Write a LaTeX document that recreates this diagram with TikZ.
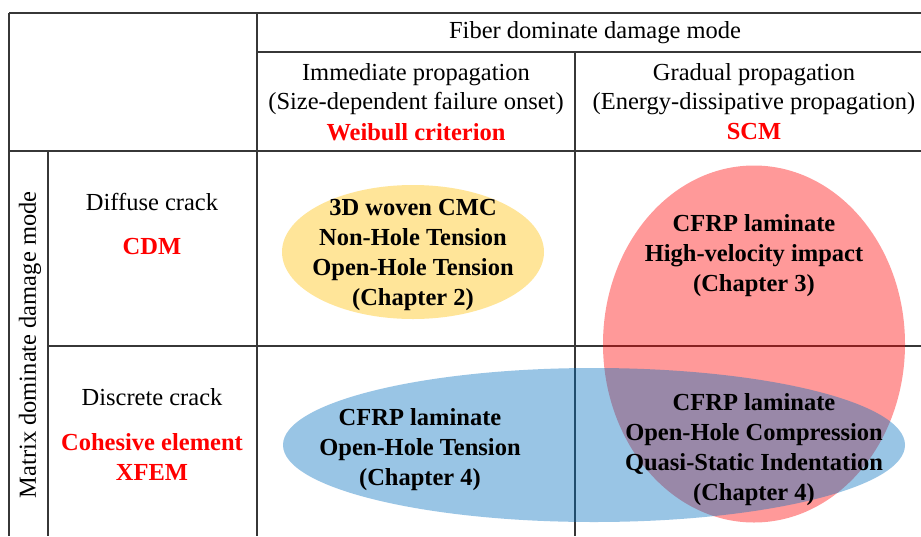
\documentclass[tikz,border=0pt]{standalone}
\usepackage{fontspec}
\setmainfont{Liberation Serif}
\usetikzlibrary{shapes.geometric}
\definecolor{gridline}{RGB}{55,55,55}
\definecolor{goldfill}{RGB}{255,192,0}
\definecolor{bluefill}{RGB}{0,112,192}
\tikzset{
  grid/.style={draw=gridline, line width=1.2pt},
  blob/.style={ellipse, inner sep=0pt, draw=none, fill opacity=0.4},
  plain/.style={font=\fontsize{24.5}{29.5}\selectfont, align=center, inner sep=0pt},
  strong/.style={font=\fontsize{24.5}{30}\selectfont\bfseries, align=center, inner sep=0pt},
  method/.style={strong, text=red},
}
\begin{document}
\begin{tikzpicture}[x=1pt, y=-1pt]
\useasboundingbox (0,0) rectangle (921,536);
\fill[white] (0,0) rectangle (921,536);

% table rules
\draw[grid] (9,13) -- (921,13);
\draw[grid] (257,52) -- (921,52);
\draw[grid] (9,151) -- (921,151);
\draw[grid] (48,346) -- (921,346);
\draw[grid] (9,13) -- (9,536);
\draw[grid] (48,151) -- (48,536);
\draw[grid] (257,13) -- (257,536);
\draw[grid] (575,52) -- (575,536);

% translucent regions
\node[blob, fill=goldfill, minimum width=262pt, minimum height=134pt] (cmc) at (413,252) {};
\node[blob, fill=red, minimum width=302pt, minimum height=357pt] (impact) at (754,344) {};
\node[blob, fill=bluefill, minimum width=622pt, minimum height=154pt] (ohtc) at (594,445) {};

% column headers
\node[plain] (fiber) at (595,33) {Fiber dominate damage mode};
\node[plain] (imm) at (416,89) {Immediate propagation\\(Size-dependent failure onset)};
\node[method] (weibull) at (416,132) {Weibull criterion};
\node[plain] (grad) at (754,89) {Gradual propagation\\(Energy-dissipative propagation)};
\node[method] (scm) at (754,132) {SCM};

% row headers
\node[plain, rotate=90] (matrix) at (30,345) {Matrix dominate damage mode};
\node[plain] (diffuse) at (152,202) {Diffuse crack};
\node[method] (cdm) at (152,247) {CDM};
\node[plain] (discrete) at (152,397) {Discrete crack};
\node[method] (cohesive) at (152,457) {Cohesive element\\XFEM};

% cell contents
\node[strong] (ch2) at (413,255) {3D woven CMC\\Non-Hole Tension\\Open-Hole Tension\\(Chapter 2)};
\node[strong] (ch3) at (754,256) {CFRP laminate\\High-velocity impact\\(Chapter 3)};
\node[strong] (ch4a) at (420,450) {CFRP laminate\\Open-Hole Tension\\(Chapter 4)};
\node[strong] (ch4b) at (754,450) {CFRP laminate\\Open-Hole Compression\\Quasi-Static Indentation\\(Chapter 4)};
\end{tikzpicture}
\end{document}
